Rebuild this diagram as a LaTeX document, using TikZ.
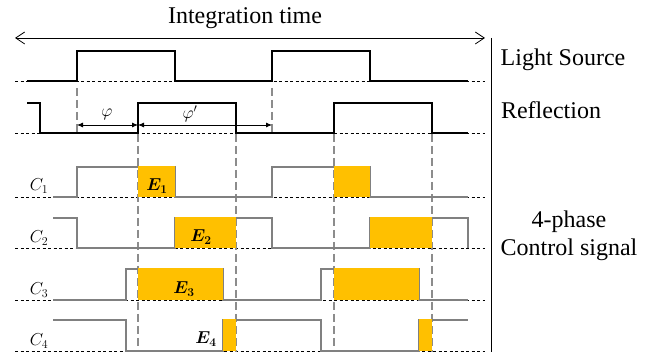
\documentclass[tikz,border=0pt]{standalone}
\usepackage{fontspec}
\setmainfont{Liberation Serif}
\usetikzlibrary{arrows.meta}
\definecolor{ctlgray}{RGB}{128,128,128}
\definecolor{dashgray}{RGB}{140,140,140}
\definecolor{amber}{RGB}{255,192,0}
\begin{document}
\begin{tikzpicture}[x=1pt,y=-1pt,
  sig/.style={line width=2.6pt, line join=miter},
  ctl/.style={line width=2.6pt, draw=ctlgray},
  base/.style={line width=0.8pt, dash pattern=on 3pt off 2.5pt},
  vdash/.style={line width=2.6pt, draw=dashgray, dash pattern=on 8pt off 4pt},
  efill/.style={fill=amber},
  lbl/.style={font=\fontsize{24}{28}\selectfont, inner sep=0pt},
  clbl/.style={font=\fontsize{18}{20}\selectfont, inner sep=0pt},
  elbl/.style={font=\fontsize{17}{19}\selectfont\boldmath, inner sep=0pt},
  dim/.style={line width=0.8pt, {Latex[length=6pt,width=5pt]}-{Latex[length=6pt,width=5pt]}},
]
\useasboundingbox (0,0) rectangle (649,352);

% title and integration arrow
\node[lbl] (title) at (245,18) {Integration time};
\coordinate (itl) at (15,38);
\coordinate (itr) at (485,38);
\draw[line width=0.8pt, {Straight Barb[length=9pt,width=12pt]}-{Straight Barb[length=9pt,width=12pt]}] (itl) -- (itr);

% separator
\coordinate (sept) at (491,38);
\coordinate (sepb) at (491,352);
\draw[line width=0.9pt] (sept) -- (sepb);

% baselines
\foreach \y in {81,133,197,248,300,351} \draw[base] (15,\y) -- (485,\y);

% gray dashed verticals
\foreach \x in {77,272} \draw[vdash] (\x,88) -- (\x,133);
\foreach \x in {138,236,334,432} \draw[vdash] (\x,134) -- (\x,352);

% light source
\draw[sig] (27,81) -- (77,81) -- (77,51) -- (175,51) -- (175,81) -- (272,81) -- (272,51) -- (370,51) -- (370,81) -- (468,81);
% reflection
\draw[sig] (27,103) -- (40,103) -- (40,133) -- (138,133) -- (138,103) -- (236,103) -- (236,133) -- (334,133) -- (334,103) -- (432,103) -- (432,133) -- (468,133);

% phase arrows
\coordinate (p0) at (77,125);
\coordinate (p1) at (138,125);
\coordinate (p2) at (272,125);
\draw[dim] (p0) -- (p1);
\draw[dim] (p1) -- (p2);
\node[font=\fontsize{18}{20}\selectfont, inner sep=0pt] (phi) at (107,114) {$\varphi$};
\node[font=\fontsize{18}{20}\selectfont, inner sep=0pt] (phip) at (190,114) {$\varphi'$};

% control signals
\draw[ctl] (53,197) -- (77,197) -- (77,167) -- (175,167) -- (175,197) -- (272,197) -- (272,167) -- (370,167) -- (370,197) -- (468,197);
\draw[ctl] (53,218) -- (77,218) -- (77,248) -- (175,248) -- (175,218) -- (272,218) -- (272,248) -- (370,248) -- (370,218) -- (468,218) -- (468,248);
\draw[ctl] (53,300) -- (126,300) -- (126,269) -- (223,269) -- (223,300) -- (321,300) -- (321,269) -- (419,269) -- (419,300) -- (468,300);
\draw[ctl] (53,320) -- (126,320) -- (126,351) -- (223,351) -- (223,320) -- (321,320) -- (321,351) -- (419,351) -- (419,320) -- (468,320);

% energy fills
\fill[amber] (138,166) rectangle (175,197);
\fill[amber] (334,166) rectangle (370,197);
\fill[amber] (175,217) rectangle (236,248);
\fill[amber] (370,217) rectangle (432,248);
\fill[amber] (138,268) rectangle (223,300);
\fill[amber] (334,268) rectangle (419,300);
\fill[amber] (223,319) rectangle (236,351);
\fill[amber] (419,319) rectangle (432,351);

% labels
\node[clbl] (c1) at (39,186) {$C_1$};
\node[clbl] (c2) at (39,238) {$C_2$};
\node[clbl] (c3) at (39,290) {$C_3$};
\node[clbl] (c4) at (39,341) {$C_4$};
\node[elbl] (e1) at (157,186) {$E_1$};
\node[elbl] (e2) at (201,237) {$E_2$};
\node[elbl] (e3) at (184,289) {$E_3$};
\node[elbl] (e4) at (206,339) {$E_4$};

\node[lbl] (ls) at (563,60) {Light Source};
\node[lbl] (rf) at (551,110) {Reflection};
\node[lbl, align=center] (ctrl) at (569,236) {4-phase\\Control signal};
\end{tikzpicture}
\end{document}
